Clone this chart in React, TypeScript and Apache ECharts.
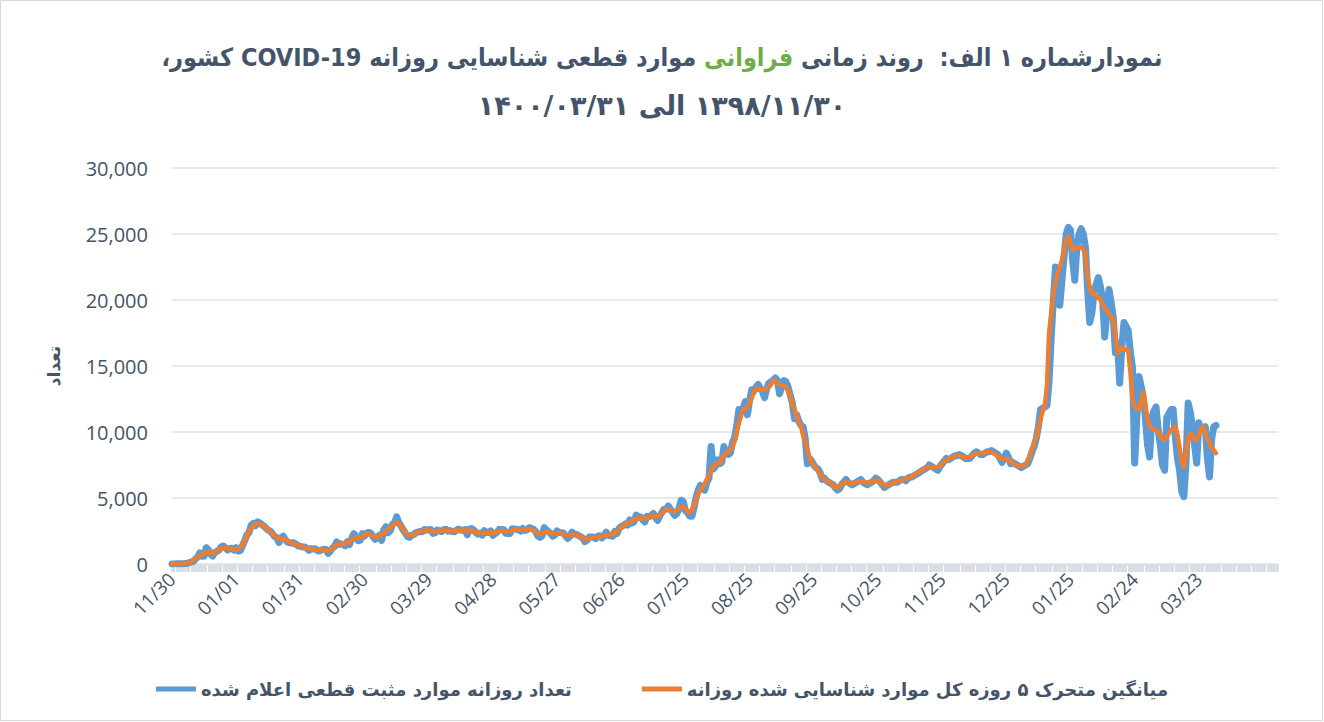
import React, { useEffect, useRef } from "react";
import * as echarts from "echarts";

// ---------- DATA ----------
const seriesNames = [
  "تعداد روزانه موارد مثبت قطعی اعلام شده",
  "میانگین متحرک ۵ روزه کل موارد شناسایی شده روزانه",
];

// daily confirmed cases, from 1398/11/30 (index 0) to 1400/03/31 (index 488)
const dailyConfirmed = [
  2, 3, 13, 10, 15, 18, 34, 44, 106, 143, 205,
  385, 523, 835, 586, 591, 1234, 1076, 743, 595, 881, 958, 1075, 1289, 1365, 1209, 1053, 1178, 1192, 1046, 1237, 966, 1028, 1411, 1762, 2206, 2389, 2926, 3076, 2901, 3186, 3110,
  2987, 2875, 2715, 2560, 2483, 2274, 2089, 1997, 1634, 1972, 2108, 1837, 1657, 1617, 1574, 1606, 1499, 1374, 1343, 1294, 1297, 1194, 1030, 1168, 1134, 1153, 1006, 991, 1073, 1112,
  1103, 802, 976, 1223, 1323, 1680, 1485, 1529, 1489, 1383, 1683, 1481, 1958, 2294, 2102, 1757, 1806, 2294, 2111, 2346, 2392, 2311, 2080, 1869, 2023, 2180, 1787, 2595, 2819, 2364, 2516,
  2979, 3117, 3574, 3134, 2886, 2596, 2364, 2095, 2011, 2181, 2238, 2369, 2410, 2472, 2449, 2612, 2563, 2596, 2615, 2322, 2368, 2573, 2531, 2445, 2595, 2628, 2489, 2536, 2457, 2449,
  2549, 2652, 2560, 2560, 2613, 2213, 2637, 2691, 2586, 2397, 2262, 2349, 2186, 2521, 2388, 2379, 2500, 2166, 2316, 2414, 2625, 2586, 2621, 2333, 2316, 2316, 2667, 2657, 2617, 2621, 2489,
  2685, 2548, 2598, 2751, 2697, 2634, 2450, 2125, 2020, 2133, 2751, 2585, 2444, 2322, 2106, 2206, 2502, 2385, 2359, 2349, 2125, 1938, 2102, 2406, 2277, 2246, 2164, 2070, 1964, 1692, 1797,
  2040, 2053, 2025, 1920, 2105, 2137, 1979, 2150, 2407, 2163, 2143, 2098, 2462, 2313, 2705, 2846, 2920, 3049, 2951, 3341, 3097, 3204, 3712, 3521, 3563, 3362, 3187, 3612, 3582, 3677,
  3825, 3521, 3294, 3637, 3902, 4151, 4142, 4392, 4142, 3930, 3675, 3822, 4206, 4830, 4721, 4038, 3890, 3635, 3616, 4251, 5039, 5616, 5960, 5814, 5597, 6191, 6500, 8900, 7200, 7400, 7900,
  7600, 7700, 8900, 8400,
  8300, 8400, 9200, 9600, 10500, 11700, 11500, 11800, 12300, 11300,
  12400, 13200, 13100, 13400, 13600, 13300, 13100, 12600, 13300, 13700,
  13800, 13900, 14100, 13900, 12900, 13400, 13900, 13800, 13400, 12800,
  12200, 11000, 11300, 10800, 10500, 10400, 9500, 7600, 8000, 7800,
  7500, 7300, 7200, 6900, 6400, 6500, 6300, 6200, 6100, 6000,
  5800, 5600, 5700, 6000, 6200, 6400, 6200, 6100, 6000, 6100,
  6200, 6300, 6400, 6200, 6100, 6000, 6100, 6200, 6300, 6500,
  6400, 6200, 6000, 5800, 5900, 6000, 6100, 6200, 6200, 6200,
  6300, 6400, 6400, 6300, 6500, 6600, 6600, 6700, 6800, 6900,
  7000, 7100, 7200, 7300, 7500, 7400, 7300, 7200, 7100, 7400,
  7600, 7800, 8000, 7900, 8000, 8100, 8200, 8200, 8300, 8200,
  8100, 8000, 8000, 8000, 8200, 8400, 8500, 8400, 8300, 8300,
  8400, 8500, 8500, 8600, 8500, 8400, 8300, 8000, 7700, 8000,
  8400, 8100, 7600, 7700, 7600, 7500, 7400, 7300, 7400, 7500,
  7600, 8000, 8500, 8900, 9500, 10400, 11700, 11800, 11900, 12000,
  13900, 17200, 20000, 22500, 21700, 19600, 21500, 23300, 25000, 25500,
  25300, 23000, 21500, 24000, 25000, 25400, 25000, 24000, 20800, 18300,
  19000, 20500, 21200, 21700, 21000, 20000, 17200, 19000, 20800, 19800,
  18700, 16000, 16700, 13700, 16500, 18300, 18000, 17700, 16000, 14900,
  7650, 11000, 14200, 13500, 12700, 11100, 9000, 8100, 11100, 11600,
  11900, 10150, 9000, 7500, 7100, 11100, 11400, 11700, 11700, 9600,
  8000, 7100, 5500, 5100, 7650, 12200, 11500, 10400, 9000, 7650,
  10700, 10300, 10150, 10400, 8000, 6600, 9500, 10400, 10500,
];

// 5-day moving average of all identified cases
const movingAvg5 = [
  6, 7, 9, 12, 18, 24, 43, 69, 106, 177, 272, 418,
  507, 584, 754, 864, 846, 848, 906, 851, 850, 960, 1114, 1179, 1198, 1219, 1199, 1136, 1141, 1124, 1094, 1138, 1281, 1475, 1759, 2139, 2472, 2700, 2896, 3040, 3052, 3012, 2975, 2849, 2724, 2581, 2424, 2281, 2095, 1993, 1960, 1910, 1842, 1838, 1759, 1658, 1591, 1534, 1479, 1423, 1361,
  1300, 1232, 1197, 1165, 1136, 1098, 1090, 1071, 1067, 1057,
  1016, 1013, 1043, 1085, 1201, 1337, 1448, 1501, 1513, 1514,
  1513, 1599, 1760, 1904, 1918, 1983, 2051, 2014, 2063, 2190,
  2291, 2248, 2200, 2135, 2093, 1988, 2091, 2281, 2349, 2416,
  2655, 2759, 2910, 3064, 3138, 3061, 2911, 2615, 2390, 2249,
  2178, 2179, 2242, 2334, 2388, 2462, 2501, 2538, 2567, 2542,
  2493, 2495, 2482, 2448, 2502, 2554, 2538, 2539, 2541, 2512,
  2496, 2529, 2533, 2554, 2587, 2520, 2517, 2543, 2548, 2505,
  2515, 2457, 2356, 2343, 2341, 2365, 2395, 2391, 2350, 2355,
  2404, 2421, 2512, 2516, 2496, 2434, 2451, 2458, 2515, 2576,
  2610, 2614, 2592, 2588, 2614, 2656, 2646, 2626, 2531, 2385,
  2272, 2296, 2323, 2387, 2447, 2442, 2333, 2316, 2304, 2312,
  2360, 2344, 2231, 2175, 2184, 2170, 2194, 2239, 2233, 2144,
  2027, 1937, 1913, 1909, 1921, 1967, 2029, 2048, 2033, 2058,
  2156, 2167, 2168, 2192, 2255, 2236, 2344, 2485, 2649, 2767,
  2894, 3021, 3072, 3128, 3261, 3375, 3419, 3472, 3469, 3449,
  3461, 3484, 3577, 3643, 3580, 3591, 3636, 3701, 3825, 4045,
  4146, 4151, 4056, 3992, 3955, 4093, 4251, 4323, 4337, 4223,
  3980, 3886, 4086, 4431, 4896, 5336, 5605, 5836, 6050,
  6350, 6700, 7100, 7400, 7550, 7600, 7650, 7950, 8250, 8400,
  8500, 8650, 8900, 9300, 10000, 10700, 11200, 11700, 11800, 11900,
  12200, 12600, 13000, 13300, 13300, 13200, 13200, 13200, 13300, 13400,
  13600, 13900, 13800, 13700, 13600, 13500, 13500, 13400, 13200, 12700,
  12100, 11700, 11200, 10800, 10400, 9800, 9200, 8700, 8100, 7700,
  7500, 7300, 7000, 6800, 6600, 6400, 6300, 6200, 6100, 5950,
  5850, 5850, 5900, 6050, 6150, 6200, 6200, 6150, 6100, 6100,
  6200, 6250, 6250, 6250, 6200, 6150, 6150, 6200, 6300, 6350,
  6300, 6200, 6050, 6000, 5950, 6000, 6100, 6150, 6200, 6250,
  6300, 6350, 6400, 6450, 6500, 6550, 6650, 6750, 6850, 6950,
  7050, 7150, 7250, 7350, 7350, 7350, 7300, 7300, 7350, 7450,
  7600, 7750, 7850, 7950, 8050, 8100, 8150, 8200, 8200, 8150,
  8100, 8050, 8050, 8100, 8200, 8300, 8350, 8350, 8350, 8400,
  8450, 8500, 8500, 8450, 8400, 8300, 8150, 8050, 8000, 7950,
  7950, 7900, 7800, 7650, 7550, 7450, 7400, 7400, 7450, 7550,
  7800, 8150, 8650, 9200, 9600, 10200, 11000, 11600, 12000, 13500,
  17500, 19000, 20500, 21300, 22000, 22500, 23000, 23800, 24500, 24800,
  24300, 23800, 23800, 24000, 24000, 24000, 23800, 23500, 21700, 21000,
  20500, 20500, 20300, 20200, 20000, 19700, 19400, 19200, 19000, 18700,
  18500, 17500, 16000, 16200, 16400, 16300, 16200, 16200, 14500, 12500,
  11900, 11800, 11700, 12300, 13000, 12000, 11000, 10400, 10300, 10200,
  10150, 10000, 9800, 9500, 9400, 9600, 9900, 10150, 10300, 10400,
  9800, 8800, 7800, 7350, 8300, 9500, 9900, 9600, 9400, 9400,
  9800, 10200, 10400, 10000, 9400, 9200, 8800, 8600, 8400,
];

const yAxisMax = 30000;
const yAxisStep = 5000;
const startDate = [1398, 11, 30]; // first category (Solar Hijri)
const axisLength = 518; // category slots on the x axis (data + empty rows)
const labelEvery = 30;

// ---------- helpers ----------
const RLE = "\u202B";
const PDF = "\u202C";
function monthLength(y: number, m: number) {
  if (m <= 6) return 31;
  if (m <= 11) return 30;
  return y === 1399 ? 30 : 29;
}
function buildCategories(n: number) {
  const out: string[] = [];
  let [y, m, d] = startDate;
  for (let i = 0; i < n; i++) {
    out.push(String(m).padStart(2, "0") + "/" + String(d).padStart(2, "0"));
    d++;
    if (d > monthLength(y, m)) {
      d = 1;
      m++;
      if (m > 12) {
        m = 1;
        y++;
      }
    }
  }
  return out;
}

const SLATE = "#44546a";
const LATIN = "'Open Sans', 'DejaVu Sans', sans-serif";
const ARAB = "'DejaVu Sans', 'Noto Sans', sans-serif";
const ARAB_C = "'DejaVu Sans Condensed', 'DejaVu Sans', sans-serif";

export default function App() {
  const ref = useRef<HTMLDivElement>(null);
  useEffect(() => {
    if (!ref.current) return;
    const chart = echarts.init(ref.current, undefined, { renderer: "svg" });
    const categories = buildCategories(axisLength);
    const lastIdx = dailyConfirmed.length - 1;

    chart.setOption({
      animation: false,
      backgroundColor: "#ffffff",
      grid: { left: 172, right: 46, top: 168, bottom: 158, containLabel: false },
      legend: {
        data: seriesNames,
        left: "center",
        top: 675,
        icon: "rect",
        itemWidth: 40,
        itemHeight: 5,
        itemGap: 70,
        textStyle: { fontSize: 18, fontWeight: "bold", color: SLATE, fontFamily: ARAB },
      },
      xAxis: {
        type: "category",
        data: categories,
        boundaryGap: false,
        axisLine: { show: true, lineStyle: { color: "#d9dde4", width: 1 } },
        axisTick: { show: true, interval: 0, length: 8, lineStyle: { color: "#dadee5", width: 2 } },
        axisLabel: {
          interval: labelEvery - 1,
          rotate: 45,
          margin: 12,
          fontSize: 19,
          color: SLATE,
          fontFamily: LATIN,
          formatter: (v: string, idx: number) => (idx <= lastIdx ? v : ""),
        },
        splitLine: { show: false },
      },
      yAxis: {
        type: "value",
        min: 0,
        max: yAxisMax,
        interval: yAxisStep,
        name: "تعداد",
        nameLocation: "middle",
        nameRotate: 90,
        nameGap: 110,
        nameTextStyle: { fontSize: 17, fontWeight: "bold", color: SLATE, fontFamily: ARAB },
        axisLine: { show: false },
        axisTick: { show: false },
        axisLabel: {
          margin: 24,
          fontSize: 20,
          color: SLATE,
          fontFamily: LATIN,
          formatter: (v: number) => v.toLocaleString("en-US"),
        },
        splitLine: { lineStyle: { color: "#dfe2e7", width: 1.5 } },
      },
      series: [
        {
          name: seriesNames[0],
          type: "line",
          data: dailyConfirmed,
          showSymbol: false,
          color: "#5b9bd5",
          lineStyle: { width: 7, color: "#5b9bd5", join: "round", cap: "round" },
          z: 2,
        },
        {
          name: seriesNames[1],
          type: "line",
          data: movingAvg5,
          showSymbol: false,
          color: "#ed7d31",
          lineStyle: { width: 4.5, color: "#ed7d31", join: "round", cap: "round" },
          z: 3,
        },
      ],
      graphic: [
        {
          type: "rect",
          shape: { x: 0.5, y: 0.5, width: 1322, height: 720 },
          style: { fill: "none", stroke: "#d9d9d9", lineWidth: 1 },
          silent: true,
          z: -1,
        },
        {
          type: "text",
          x: 662,
          y: 57,
          style: {
            text:
              "{a|" + RLE + "موارد قطعی شناسایی روزانه COVID-19 کشور،" + PDF + "}{s| }{g|فراوانی}{s| }{a|" + RLE + "نمودارشماره ۱ الف:  روند زمانی" + PDF + "}",
            align: "center",
            verticalAlign: "middle",
            fill: SLATE,
            fontSize: 25,
            fontWeight: "bold",
            fontFamily: ARAB_C,
            rich: {
              a: { fill: SLATE, fontSize: 25, fontWeight: "bold", fontFamily: ARAB_C },
              s: { fill: SLATE, fontSize: 25, fontWeight: "bold", fontFamily: ARAB_C },
              g: { fill: "#70ad47", fontSize: 25, fontWeight: "bold", fontFamily: ARAB_C },
            },
          },
        },
        {
          type: "text",
          x: 662,
          y: 105,
          style: {
            text: RLE + "۱۳۹۸/۱۱/۳۰ الی ۱۴۰۰/۰۳/۳۱" + PDF,
            align: "center",
            verticalAlign: "middle",
            fill: SLATE,
            fontSize: 27,
            fontWeight: "bold",
            fontFamily: ARAB,
          },
        },
      ],
    });
    return () => chart.dispose();
  }, []);
  return (
    <div
      ref={ref}
      style={{ position: "absolute", left: 0, top: 0, width: 1324, height: 722 }}
    />
  );
}
